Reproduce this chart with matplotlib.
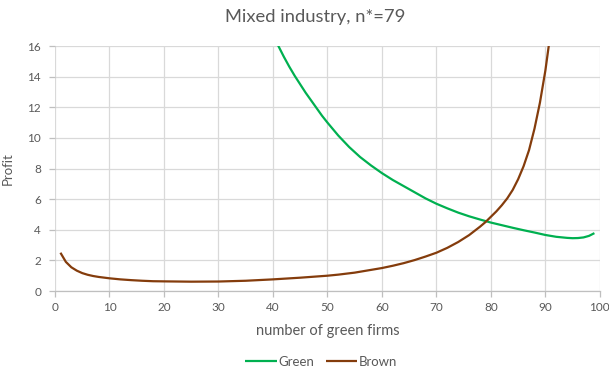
import matplotlib
matplotlib.use("Agg")
import matplotlib.pyplot as plt

# Data
green_x = [40, 41, 42, 43, 44, 45, 46, 47, 48, 49, 50, 52, 54, 56, 58, 60, 62, 64, 66, 68,
           70, 72, 74, 76, 78, 80, 82, 84, 86, 88, 90, 92, 94, 95, 96, 97, 98, 99]
green_y = [16.9, 16.0, 15.3, 14.65, 14.05, 13.5, 12.95, 12.45, 11.95, 11.45, 11.0, 10.15,
           9.4, 8.75, 8.2, 7.7, 7.25, 6.85, 6.45, 6.05, 5.7, 5.4, 5.12, 4.88, 4.67, 4.47,
           4.3, 4.13, 3.97, 3.82, 3.66, 3.54, 3.47, 3.45, 3.46, 3.5, 3.6, 3.78]

brown_x = [1, 2, 3, 4, 5, 6, 7, 8, 10, 12, 14, 16, 18, 20, 25, 30, 35, 40, 45, 50, 52, 55,
           57, 60, 62, 64, 66, 68, 70, 72, 74, 76, 78, 79, 80, 81, 82, 83, 84, 85, 86, 87,
           88, 89, 90, 91]
brown_y = [2.5, 1.9, 1.55, 1.33, 1.17, 1.06, 0.98, 0.92, 0.83, 0.76, 0.71, 0.67, 0.64, 0.63,
           0.61, 0.62, 0.67, 0.76, 0.87, 1.0, 1.07, 1.2, 1.32, 1.5, 1.65, 1.82, 2.02, 2.25,
           2.5, 2.82, 3.2, 3.65, 4.2, 4.5, 4.85, 5.2, 5.6, 6.05, 6.6, 7.3, 8.15, 9.2, 10.6,
           12.3, 14.4, 17.0]

x_ticks = [0, 10, 20, 30, 40, 50, 60, 70, 80, 90, 100]
y_ticks = [0, 2, 4, 6, 8, 10, 12, 14, 16]

title = "Mixed industry, n*=79"
xlabel = "number of green firms"
ylabel = "Profit"

plt.rcParams['font.family'] = ['Lato', 'DejaVu Sans']
txt = '#595959'
grid = '#d9d9d9'

fig = plt.figure(figsize=(6.09, 3.72), dpi=100)
ax = fig.add_axes([0.0903, 0.2177, 0.8947, 0.6586])

ax.plot(green_x, green_y, color='#00B050', lw=1.6, label='Green',
        solid_joinstyle='round', solid_capstyle='butt')
ax.plot(brown_x, brown_y, color='#843C0C', lw=1.6, label='Brown',
        solid_joinstyle='round', solid_capstyle='butt')

ax.set_xlim(0, 100)
ax.set_ylim(0, 16)
ax.set_xticks(x_ticks)
ax.set_yticks(y_ticks)
ax.grid(True, color=grid, lw=0.9)
ax.set_axisbelow(True)
for s in ['top', 'right', 'left']:
    ax.spines[s].set_visible(False)
ax.spines['bottom'].set_color('#bfbfbf')
ax.spines['bottom'].set_linewidth(0.9)
ax.tick_params(axis='both', colors='#bfbfbf', labelcolor=txt, labelsize=8.5, length=4, width=0.9)
ax.tick_params(axis='y', pad=6)
ax.tick_params(axis='x', pad=4)

ax.set_xlabel(xlabel, color=txt, fontsize=10.5, labelpad=8)
ax.set_ylabel(ylabel, color=txt, fontsize=9.5, labelpad=10)
fig.text(0.518, 0.955, title, ha='center', va='center', color=txt, fontsize=13.2)

leg = fig.legend(loc='center', bbox_to_anchor=(0.527, 0.027), ncol=2, frameon=False,
                 fontsize=9.5, handlelength=2.4, handletextpad=0.1, columnspacing=0.9,
                 borderpad=0.1)
for t in leg.get_texts():
    t.set_color(txt)

fig.savefig('out.png', dpi=100)
